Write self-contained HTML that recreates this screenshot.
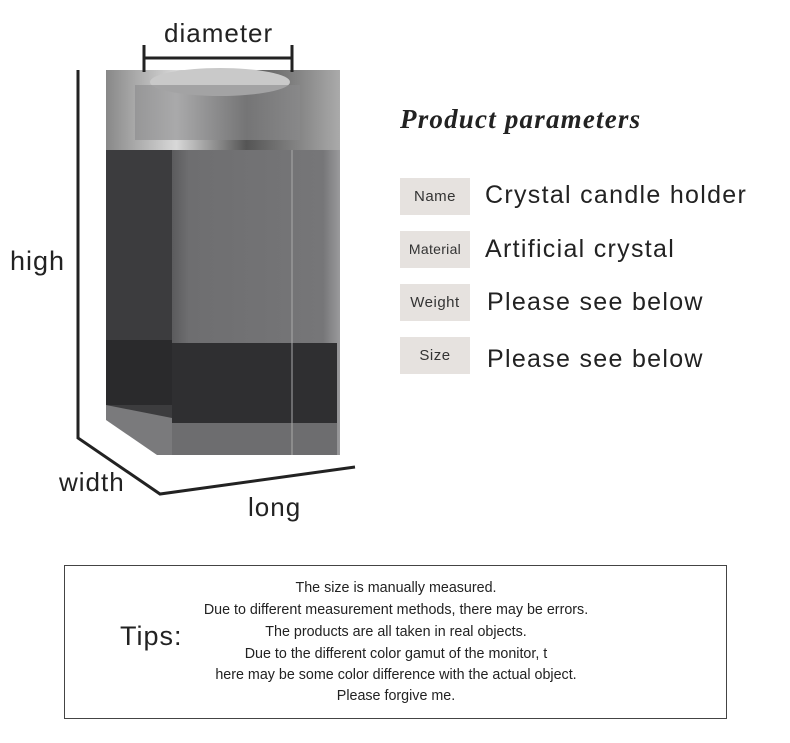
<!DOCTYPE html>
<html><head><style>
body{margin:0;width:790px;height:743px;background:#fff;position:relative;font-family:"Liberation Sans",sans-serif;overflow:hidden}
.t{position:absolute;color:#222;white-space:nowrap}
.lab{position:absolute;left:400px;width:70px;height:37px;background:#e6e2df;font-size:15px;color:#333;text-align:center;line-height:37px;letter-spacing:0.5px}
.val{position:absolute;left:485px;font-size:25px;color:#222;letter-spacing:1.3px}
.tip{position:absolute;left:64px;top:565px;width:661px;height:152px;border:1px solid #444}
.tl{font-size:14.3px;color:#222;text-align:center;position:absolute;left:0;width:662px}
</style></head><body>
<svg width="790" height="743" style="position:absolute;left:0;top:0">
<defs>
<linearGradient id="f" x1="0" x2="1"><stop offset="0" stop-color="#5b5b5d"/><stop offset="0.1" stop-color="#6e6e70"/><stop offset="0.9" stop-color="#767678"/><stop offset="1" stop-color="#9a9a9c"/></linearGradient>
<linearGradient id="c" x1="0" x2="1"><stop offset="0" stop-color="#888"/><stop offset="0.3" stop-color="#d8d8d8"/><stop offset="0.6" stop-color="#555"/><stop offset="1" stop-color="#aaa"/></linearGradient>
</defs>
<rect x="106" y="70" width="234" height="80" fill="url(#c)"/>
<ellipse cx="220" cy="82" rx="70" ry="14" fill="#c9c9c9"/>
<rect x="135" y="85" width="165" height="55" fill="#8a8a8c" opacity="0.6"/>
<rect x="172" y="150" width="168" height="305" fill="url(#f)"/>
<rect x="106" y="150" width="66" height="270" fill="#3c3c3e"/>
<rect x="172" y="343" width="165" height="80" fill="#2f2f31"/>
<rect x="106" y="340" width="66" height="65" fill="#2a2a2c"/>
<polygon points="106,405 172,418 172,455 157,455 106,420" fill="#7a7a7c"/>
<rect x="172" y="423" width="165" height="32" fill="#6d6d6f"/>
<line x1="292" y1="150" x2="292" y2="455" stroke="#aaa" stroke-width="1"/>
<g stroke="#222" stroke-width="3" fill="none">
<path d="M144 45 V72 M144 58 H292 M292 45 V72"/>
<path d="M78 70 V438 L160 494 L355 467"/>
</g>
</svg>
<div class="t" style="left:164px;top:18px;font-size:26px;letter-spacing:1px">diameter</div>
<div class="t" style="left:10px;top:246px;font-size:27px;letter-spacing:1px">high</div>
<div class="t" style="left:59px;top:467px;font-size:26px;letter-spacing:1px">width</div>
<div class="t" style="left:248px;top:492px;font-size:26px;letter-spacing:1px">long</div>
<div class="t" style="left:400px;top:104px;font-size:27px;font-style:italic;font-weight:bold;font-family:'Liberation Serif',serif;letter-spacing:1.2px">Product parameters</div>
<div class="lab" style="top:178px">Name</div><div class="val" style="top:181px">Crystal candle holder</div>
<div class="lab" style="top:231px;font-size:14px;letter-spacing:0.3px">Material</div><div class="val" style="top:235px">Artificial crystal</div>
<div class="lab" style="top:284px">Weight</div><div class="val" style="left:487px;top:288px">Please see below</div>
<div class="lab" style="top:337px">Size</div><div class="val" style="left:487px;top:345px">Please see below</div>
<div class="tip">
<div class="t" style="left:55px;top:55px;font-size:27px;letter-spacing:1px">Tips:</div>
<div class="tl" style="top:14px">The size is manually measured.</div>
<div class="tl" style="top:36px">Due to different measurement methods, there may be errors.</div>
<div class="tl" style="top:58px">The products are all taken in real objects.</div>
<div class="tl" style="top:80px">Due to the different color gamut of the monitor, t</div>
<div class="tl" style="top:101px">here may be some color difference with the actual object.</div>
<div class="tl" style="top:122px">Please forgive me.</div>
</div>
</body></html>
